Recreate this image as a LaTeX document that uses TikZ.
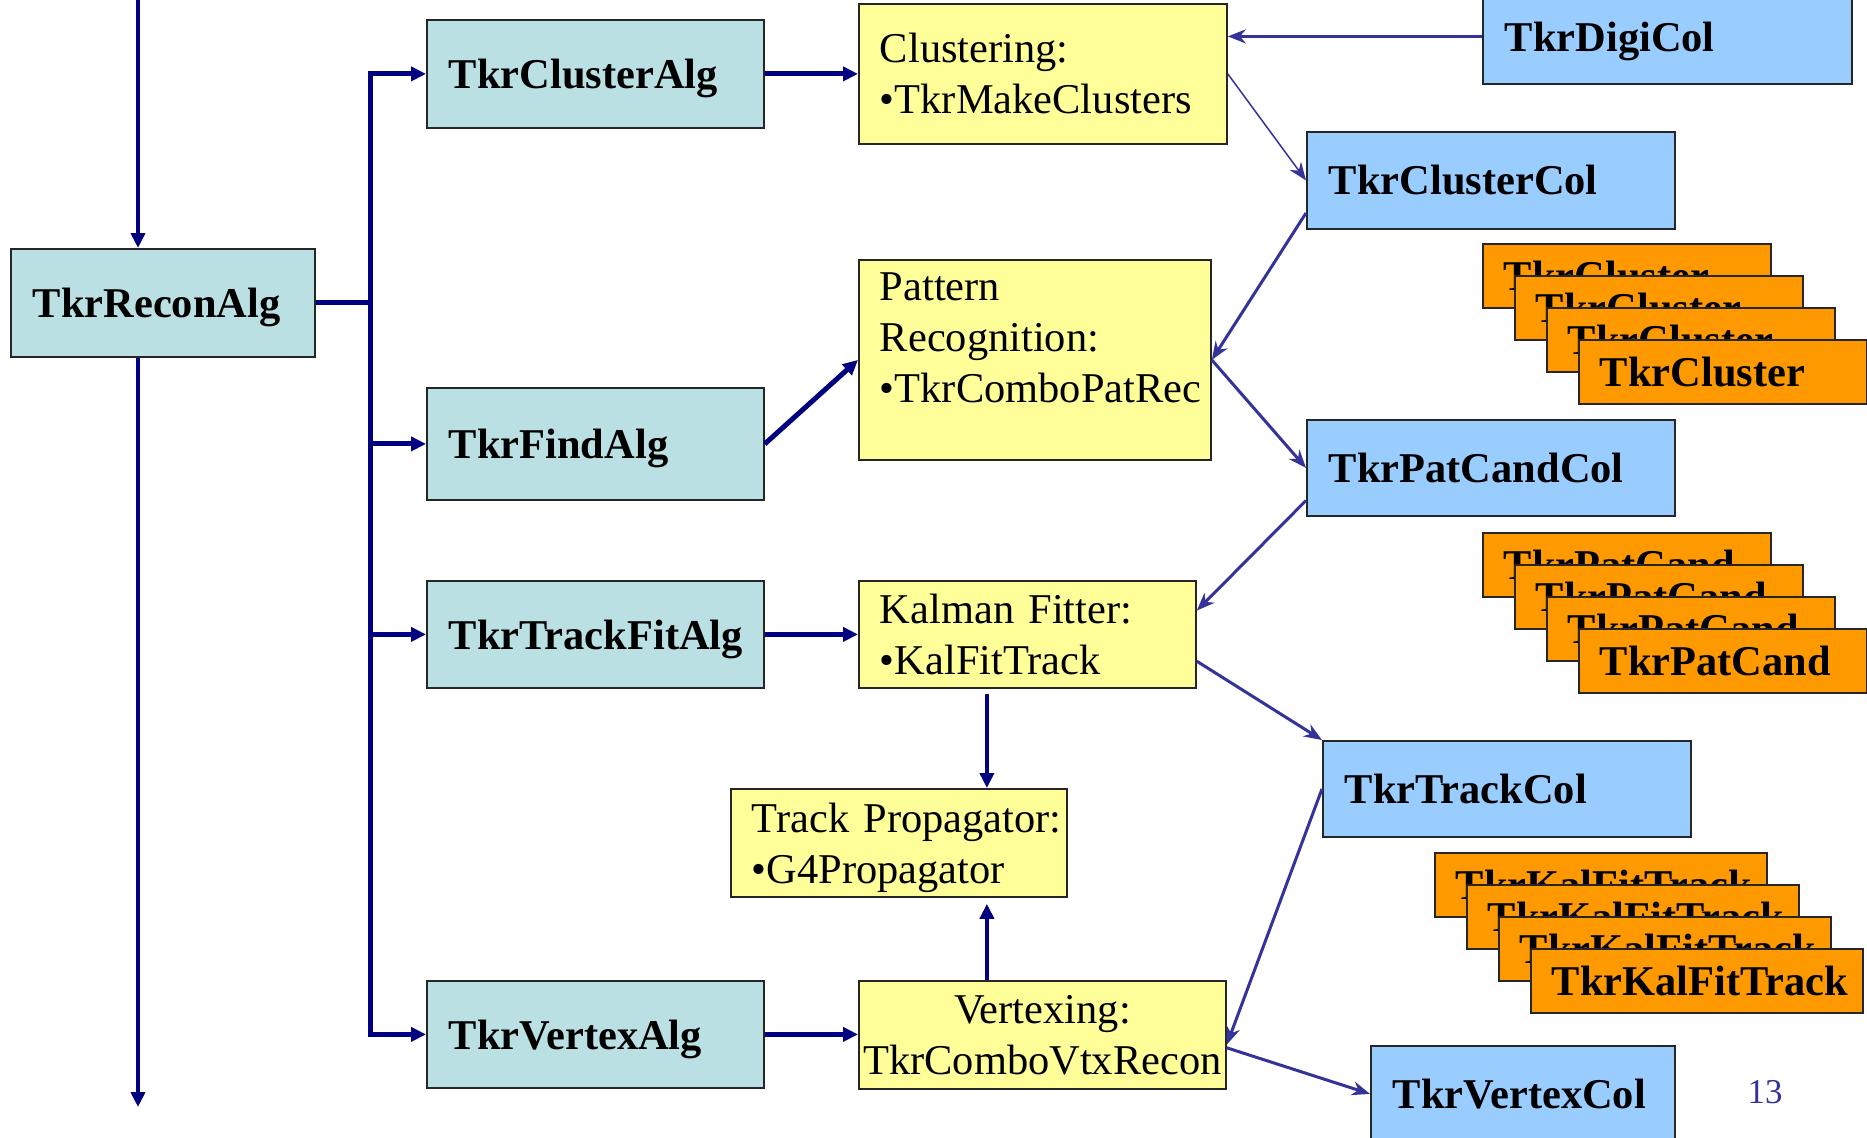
\documentclass[tikz,border=0pt]{standalone}
\usepackage{fontspec}
\setmainfont{Liberation Serif}
\usepackage{tikz}
\usetikzlibrary{arrows.meta}
\definecolor{algteal}{HTML}{BBE0E3}
\definecolor{toolyellow}{HTML}{FFFF99}
\definecolor{colblue}{HTML}{99CCFF}
\definecolor{itemorange}{HTML}{FF9900}
\definecolor{navyflow}{HTML}{000080}
\definecolor{linkblue}{HTML}{333399}
\definecolor{boxline}{HTML}{262626}
\newcommand{\boxfont}{\fontsize{42.6}{51.2}\selectfont}

\begin{document}
\begin{tikzpicture}[
  x=1bp, y=-1bp,
  algbox/.style={draw=boxline, line width=1.8bp, fill=algteal, anchor=north west, inner xsep=22bp, inner ysep=0pt, text width=293bp, text depth=0pt, align=left, font=\boxfont\bfseries},
  toolbox/.style={draw=boxline, line width=1.8bp, fill=toolyellow, anchor=north west, inner xsep=21bp, inner ysep=0pt, align=left, font=\boxfont},
  colbox/.style={draw=boxline, line width=1.8bp, fill=colblue, anchor=north west, inner xsep=22bp, inner ysep=0pt, text width=324bp, align=left, font=\boxfont\bfseries, minimum height=96bp},
  itembox/.style={draw=boxline, line width=1.8bp, fill=itemorange, anchor=north west, inner xsep=21bp, inner ysep=0pt, text width=246bp, align=left, font=\boxfont\bfseries, minimum height=64bp},
  flow/.style={draw=navyflow, line width=5bp, -{Triangle[length=15bp,width=14bp]}},
  link/.style={draw=linkblue, line width=3bp, -{Stealth[length=18bp,width=14bp]}},
]
\useasboundingbox (0,0) rectangle (1867,1137);

% algorithms
\node[algbox, text width=260bp, minimum height=108bp] (recon) at (10,248) {TkrReconAlg};
\node[algbox, minimum height=108bp] (clusteralg) at (426,19) {TkrClusterAlg};
\node[algbox, minimum height=112bp] (findalg) at (426,387) {TkrFindAlg};
\node[algbox, minimum height=107bp] (fitalg) at (426,580) {TkrTrackFitAlg};
\node[algbox, minimum height=107bp] (vtxalg) at (426,980) {TkrVertexAlg};

% tools
\node[toolbox, text width=326bp, minimum height=140bp] (clustering) at (858,3) {Clustering:\\•TkrMakeClusters};
\node[toolbox, text width=310bp, minimum height=200bp] (patrec) at (858,259) {Pattern\\Recognition:\\•TkrComboPatRec\rule[-45bp]{0pt}{45bp}};
\node[toolbox, text width=295bp, minimum height=107bp] (kalman) at (858,580) {Kalman Fitter:\\•KalFitTrack};
\node[toolbox, text width=294bp, minimum height=108bp] (prop) at (730,788) {\rule{0pt}{39bp}\mbox{Track Propagator:}\\•G4Propagator};
\node[toolbox, align=center, inner xsep=3bp, minimum width=367bp, minimum height=108bp] (vertexing) at (858,980) {Vertexing:\\TkrComboVtxRecon};

% collections
\node[colbox, text width=325bp, text depth=0pt, minimum height=95bp] (digicol) at (1482,-12) {TkrDigiCol};
\node[colbox, minimum height=97bp] (clustercol) at (1306,131) {TkrClusterCol};
\node[colbox] (patcandcol) at (1306,419) {TkrPatCandCol};
\node[colbox] (trackcol) at (1322,740) {TkrTrackCol};
\node[colbox, text width=260bp] (vertexcol) at (1370,1045) {TkrVertexCol};

% stacked objects
\foreach \i in {0,...,3} {
  \node[itembox] (cluster\i) at (1482+32*\i, 243+32*\i) {TkrCluster};
  \node[itembox] (patcand\i) at (1482+32*\i, 532+32*\i) {TkrPatCand};
  \node[itembox, text width=290bp] (kalfit\i) at (1434+32*\i, 852+32*\i) {TkrKalFitTrack};
}

\node[font=\fontsize{35}{42}\selectfont, text=linkblue] (pagenum) at (1765,1092) {13};

% main flow
\coordinate (in) at (138,0);
\coordinate (out) at (138,1107);
\coordinate (bus) at (370,0);
\draw[flow, line width=4bp] (in) -- (in |- recon.north);
\draw[flow, line width=4bp] (in |- recon.south) -- (out);
\draw[navyflow, line width=5bp] (recon.east) -- (recon.east -| bus);
\draw[flow, {Triangle[length=15bp,width=14bp]}-{Triangle[length=15bp,width=14bp]}]
  (clusteralg.west) -| (bus |- vtxalg.west) -- (vtxalg.west);
\draw[flow] (bus |- findalg.west) -- (findalg.west);
\draw[flow] (bus |- fitalg.west) -- (fitalg.west);

\draw[flow] (clusteralg.east) -- (clusteralg.east -| clustering.west);
\draw[flow] (findalg.east) -- (patrec.west);
\draw[flow] (fitalg.east) -- (fitalg.east -| kalman.west);
\draw[flow] (vtxalg.east) -- (vtxalg.east -| vertexing.west);
\draw[flow, line width=4bp, shorten <=5bp] ([xshift=-40.5bp]kalman.south) -- ([xshift=-40.5bp]kalman.south |- prop.north);
\draw[flow, line width=4bp, shorten >=6bp] ([xshift=-40.5bp]kalman.south |- vertexing.north) -- ([xshift=-40.5bp]kalman.south |- prop.south);

% data links
\draw[link] (digicol.west) -- (digicol.west -| clustering.east);
\draw[link, line width=1.5bp] (clustering.east) -- (clustercol.west);
\draw[link] (clustercol.190) -- (patrec.east);
\draw[link] (patrec.east) -- (patcandcol.west);
\draw[link] (patcandcol.190) -- (kalman.8);
\draw[link] (kalman.-9) -- (trackcol.north west);
\draw[link] (trackcol.west) -- (vertexing.-3);
\draw[link] (vertexing.-4) -- (vertexcol.west);
\end{tikzpicture}
\end{document}
